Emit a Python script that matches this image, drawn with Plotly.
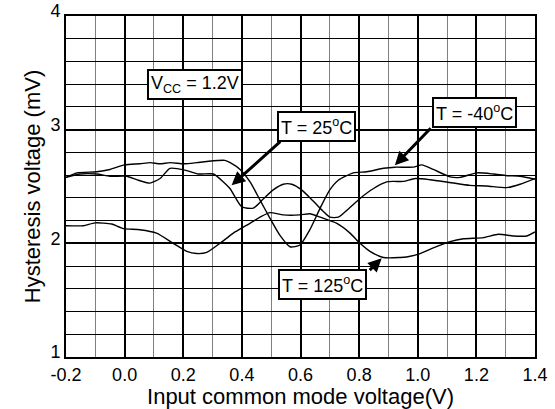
import plotly.graph_objects as go

# Data
x_m40 = [-0.2, -0.163, -0.095, -0.05, 0.0, 0.052, 0.087, 0.121, 0.155, 0.203, 0.246, 0.28, 0.342, 0.36,
         0.394, 0.428, 0.462, 0.496, 0.53, 0.564, 0.598, 0.632, 0.667, 0.70, 0.729, 0.78, 0.826, 0.883,
         0.922, 0.985, 1.014, 1.053, 1.11, 1.144, 1.201, 1.258, 1.304, 1.349, 1.40]
y_m40 = [2.58, 2.62, 2.63, 2.65, 2.69, 2.70, 2.71, 2.70, 2.71, 2.70, 2.71, 2.72, 2.73, 2.71,
         2.65, 2.54, 2.38, 2.22, 2.07, 1.97, 1.985, 2.12, 2.31, 2.47, 2.555, 2.62, 2.63, 2.66,
         2.67, 2.67, 2.69, 2.65, 2.585, 2.58, 2.62, 2.61, 2.595, 2.59, 2.565]

x_25 = [-0.2, -0.152, -0.095, -0.05, 0.007, 0.041, 0.087, 0.121, 0.155, 0.212, 0.251, 0.303, 0.337, 0.36,
        0.40, 0.439, 0.473, 0.507, 0.541, 0.57, 0.604, 0.644, 0.678, 0.70, 0.729, 0.758, 0.803, 0.848,
        0.894, 0.917, 0.951, 0.991, 1.042, 1.099, 1.178, 1.235, 1.304, 1.349, 1.40]
y_25 = [2.58, 2.61, 2.61, 2.59, 2.59, 2.56, 2.53, 2.57, 2.66, 2.64, 2.61, 2.61, 2.54, 2.48,
        2.32, 2.31, 2.39, 2.47, 2.52, 2.52, 2.47, 2.37, 2.28, 2.23, 2.23, 2.29, 2.395, 2.48,
        2.54, 2.545, 2.545, 2.57, 2.56, 2.54, 2.51, 2.505, 2.49, 2.52, 2.57]

x_125 = [-0.2, -0.141, -0.101, -0.044, -0.004, 0.052, 0.109, 0.166, 0.212, 0.246, 0.28, 0.325, 0.371,
         0.417, 0.462, 0.496, 0.541, 0.598, 0.632, 0.667, 0.724, 0.769, 0.803, 0.837, 0.883, 0.94,
         0.962, 1.008, 1.053, 1.11, 1.156, 1.224, 1.275, 1.326, 1.372, 1.40]
y_125 = [2.155, 2.155, 2.18, 2.17, 2.13, 2.12, 2.09, 2.00, 1.93, 1.91, 1.92, 2.00, 2.09,
         2.16, 2.23, 2.27, 2.25, 2.25, 2.26, 2.23, 2.175, 2.09, 2.00, 1.93, 1.875, 1.875,
         1.88, 1.91, 1.96, 2.015, 2.04, 2.05, 2.08, 2.065, 2.065, 2.10]

x_ticks = [-0.2, 0.0, 0.2, 0.4, 0.6, 0.8, 1.0, 1.2, 1.4]
x_tick_labels = ["-0.2", "0.0", "0.2", "0.4", "0.6", "0.8", "1.0", "1.2", "1.4"]
y_ticks = [1, 2, 3, 4]
y_tick_labels = ["1", "2", "3", "4"]

FONT = "Liberation Sans, Arial, sans-serif"

fig = go.Figure()
for xs, ys, name in [(x_m40, y_m40, "T = -40°C"), (x_25, y_25, "T = 25°C"), (x_125, y_125, "T = 125°C")]:
    fig.add_trace(go.Scatter(x=xs, y=ys, mode="lines", name=name,
                             line=dict(color="black", width=1.4, shape="spline", smoothing=0.6),
                             showlegend=False, hoverinfo="skip"))

# Label boxes
boxes = [
    (0.24, 3.40, "V<sub>CC</sub> = 1.2V"),
    (0.655, 3.03, "T = 25<sup>o</sup>C"),
    (1.195, 3.15, "T = -40<sup>o</sup>C"),
    (0.675, 1.634, "T = 125<sup>o</sup>C"),
]
for bx, by, txt in boxes:
    fig.add_annotation(x=bx, y=by, xref="x", yref="y", text=txt, showarrow=False,
                       font=dict(family=FONT, size=18, color="black"),
                       bgcolor="white", bordercolor="black", borderwidth=2, borderpad=2)

# Arrows (tip, tail)
arrows = [
    (0.365, 2.511, 0.536, 2.906),
    (0.922, 2.687, 1.049, 3.026),
    (0.877, 1.868, 0.831, 1.752),
]
for tx, ty, ax, ay in arrows:
    fig.add_annotation(x=tx, y=ty, ax=ax, ay=ay, xref="x", yref="y", axref="x", ayref="y",
                       text="", showarrow=True, arrowhead=2, arrowsize=0.9, arrowwidth=3,
                       arrowcolor="black", standoff=0, startstandoff=0)

fig.update_layout(
    width=555, height=409, autosize=False,
    margin=dict(l=66, r=20, t=16, b=52, autoexpand=False),
    paper_bgcolor="white", plot_bgcolor="white",
    font=dict(family=FONT, color="black"),
    xaxis=dict(
        range=[-0.2, 1.4], tickmode="array", tickvals=x_ticks, ticktext=x_tick_labels,
        showgrid=True, gridcolor="black", gridwidth=2,
        minor=dict(dtick=0.1, tick0=-0.2, showgrid=True, gridcolor="#808080", gridwidth=1),
        showline=True, linecolor="black", linewidth=2, mirror=True,
        ticks="", tickfont=dict(size=18, family=FONT, color="black"),
        title=dict(text="Input common mode voltage(V)", font=dict(size=22, family=FONT, color="black"),
                   standoff=0),
        zeroline=False, automargin=False,
    ),
    yaxis=dict(
        range=[1, 4], tickmode="array", tickvals=y_ticks, ticktext=y_tick_labels,
        showgrid=True, gridcolor="black", gridwidth=2,
        minor=dict(dtick=0.2, tick0=1, showgrid=True, gridcolor="black", gridwidth=1),
        showline=True, linecolor="black", linewidth=2, mirror=True,
        ticks="", tickfont=dict(size=18, family=FONT, color="black"),
        ticklabelshift=-5,
        title=dict(text="Hysteresis voltage (mV)", font=dict(size=22, family=FONT, color="black"),
                   standoff=4),
        zeroline=False, automargin=False,
    ),
)

fig.write_html("out.html", config={"displayModeBar": False, "staticPlot": True})
with open("out.html", "r", encoding="utf-8") as f:
    html = f.read()
html = html.replace("<head>", "<head><style>html,body{margin:0;padding:0;overflow:hidden;}</style>", 1)
with open("out.html", "w", encoding="utf-8") as f:
    f.write(html)
